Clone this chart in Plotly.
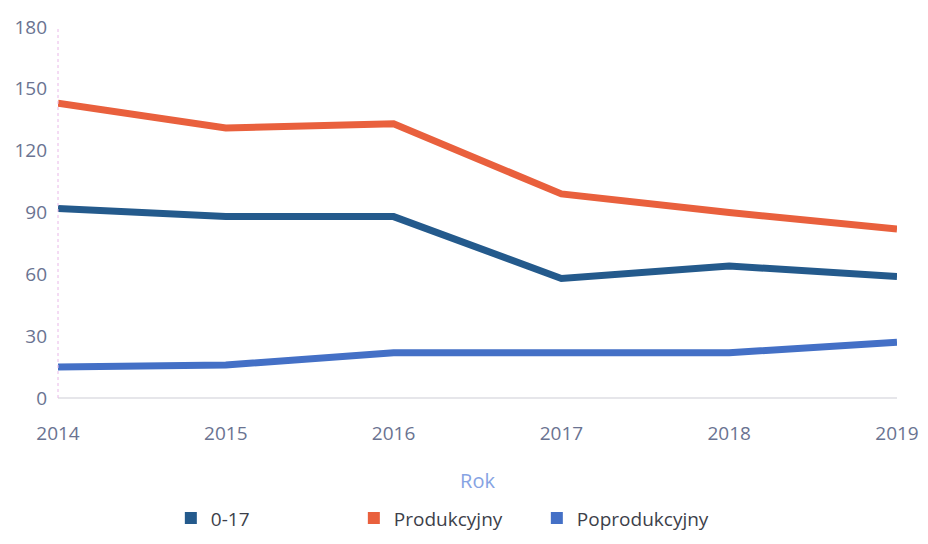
import plotly.graph_objects as go

years = [2014, 2015, 2016, 2017, 2018, 2019]
s_0_17 = [92, 88, 88, 58, 64, 59]
s_prod = [143, 131, 133, 99, 90, 82]
s_poprod = [15, 16, 22, 22, 22, 27]
y_ticks = [0, 30, 60, 90, 120, 150, 180]

series = [
    ("0-17", s_0_17, "#245a8c"),
    ("Produkcyjny", s_prod, "#e9603d"),
    ("Poprodukcyjny", s_poprod, "#4470c6"),
]

fig = go.Figure()
for name, vals, col in series:
    fig.add_trace(go.Scatter(x=years, y=vals, mode="lines", name=name,
                             line=dict(color=col, width=7),
                             showlegend=False, hoverinfo="x+y+name"))
for name, vals, col in series:
    fig.add_trace(go.Scatter(x=[None], y=[None], mode="markers", name=name,
                             marker=dict(color=col, symbol="square", size=12)))

fig.add_shape(type="line", xref="paper", yref="paper", x0=0, x1=0, y0=0, y1=1,
              line=dict(color="#e9b8e8", width=1, dash="dot"))

fig.update_layout(
    width=920, height=536,
    margin=dict(l=50, r=31, t=19, b=146),
    paper_bgcolor="white", plot_bgcolor="white",
    font=dict(family="Open Sans", color="#6a7391", size=19),
    xaxis=dict(range=[2014, 2019], tickvals=years, ticktext=[str(y) for y in years],
               showgrid=False, zeroline=False, showline=False, ticks="",
               automargin=False, ticklabelstandoff=22,
               title=dict(text="Rok", font=dict(color="#86a3e3", size=20), standoff=28),
               tickfont=dict(size=19, color="#6a7391")),
    yaxis=dict(range=[0, 180], tickvals=y_ticks, showgrid=False, zeroline=True,
               zerolinecolor="#e6e6ea", zerolinewidth=1.5, showline=False, ticks="",
               automargin=False,
               tickfont=dict(size=19, color="#6a7391"), ticklabelstandoff=10),
    legend=dict(orientation="h", xref="container", yref="container",
                x=0.177, y=0.048, xanchor="left", yanchor="middle",
                entrywidth=138, entrywidthmode="pixels",
                font=dict(size=19, color="#3d3f4a"), itemwidth=30),
)

fig.write_html("out.html")
